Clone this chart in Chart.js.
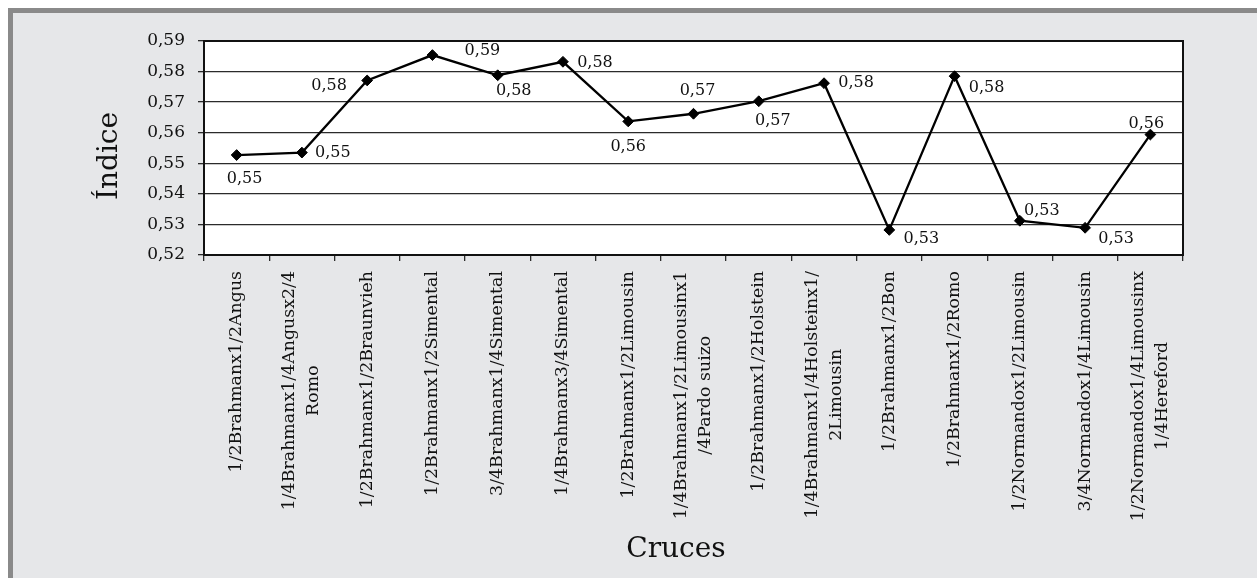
<!DOCTYPE html>
<html>
<head>
<meta charset="utf-8">
<title>Índice por cruce</title>
<script src="https://cdn.jsdelivr.net/npm/chart.js@4.4.1/dist/chart.umd.min.js"></script>
<style>
  html, body { margin: 0; padding: 0; background: #ffffff; }
  #wrap { width: 1257px; height: 578px; }
</style>
</head>
<body>
<div id="wrap"><canvas id="chart" width="1257" height="578"></canvas></div>
<script>
// Crosses (each entry is a list of text lines for the axis label)
const CATEGORIES = [
  ["1/2Brahmanx1/2Angus"],
  ["1/4Brahmanx1/4Angusx2/4", "Romo"],
  ["1/2Brahmanx1/2Braunvieh"],
  ["1/2Brahmanx1/2Simental"],
  ["3/4Brahmanx1/4Simental"],
  ["1/4Brahmanx3/4Simental"],
  ["1/2Brahmanx1/2Limousin"],
  ["1/4Brahmanx1/2Limousinx1", "/4Pardo suizo"],
  ["1/2Brahmanx1/2Holstein"],
  ["1/4Brahmanx1/4Holsteinx1/", "2Limousin"],
  ["1/2Brahmanx1/2Bon"],
  ["1/2Brahmanx1/2Romo"],
  ["1/2Normandox1/2Limousin"],
  ["3/4Normandox1/4Limousin"],
  ["1/2Normandox1/4Limousinx", "1/4Hereford"]
];

// Index value per cross
const INDICE = [
  0.5527, 0.5535, 0.5771, 0.5854, 0.5788, 0.5832, 0.5637, 0.5662,
  0.5703, 0.5762, 0.5282, 0.5785, 0.5312, 0.5289, 0.5594
];

// Value axis range and step
const Y_MIN = 0.52;
const Y_MAX = 0.59;
const Y_STEP = 0.01;

// Axis titles
const Y_TITLE = "Índice";
const X_TITLE = "Cruces";

// Where each value label sits relative to its marker (px)
const LABEL_OFFSETS = [
  [8, 24], [31, 0], [-38, 5], [50, -4], [16, 16], [32, 1], [0, 25], [4, -23],
  [14, 20], [32, 0], [32, 9], [32, 12], [22, -10], [31, 11], [-4, -11]
];

const SERIF = '"DejaVu Serif", "Liberation Serif", serif';
const INK = '#111111';
const GRID = '#2b2b2b';

const fmt = v => Number(v).toFixed(2).replace('.', ',');

// Frame, panel background and white plot area
const backdrop = {
  id: 'backdrop',
  beforeDraw(chart) {
    const { ctx, width, height, chartArea: a } = chart;
    ctx.save();
    ctx.fillStyle = '#ffffff';
    ctx.fillRect(0, 0, width, height);
    ctx.fillStyle = '#8a8a8a';
    ctx.fillRect(8, 8, width - 8, height - 8);
    ctx.fillStyle = '#e6e7e9';
    ctx.fillRect(13, 13, width - 13, height - 13);
    ctx.fillStyle = '#ffffff';
    ctx.fillRect(a.left, a.top, a.right - a.left, a.bottom - a.top);
    ctx.restore();
  }
};

// Plot border, rotated category labels, value labels and axis titles
const annotations = {
  id: 'annotations',
  afterDatasetsDraw(chart) {
    const { ctx, chartArea: a, scales } = chart;
    ctx.save();

    // outline of the plot area
    ctx.strokeStyle = INK;
    ctx.lineWidth = 2;
    ctx.strokeRect(a.left, a.top, a.right - a.left, a.bottom - a.top);

    // value labels
    const meta = chart.getDatasetMeta(0);
    ctx.fillStyle = INK;
    ctx.font = '16px ' + SERIF;
    ctx.textAlign = 'center';
    ctx.textBaseline = 'middle';
    meta.data.forEach((pt, i) => {
      const [dx, dy] = LABEL_OFFSETS[i];
      ctx.fillText(fmt(INDICE[i]), pt.x + dx, pt.y + dy);
    });

    // category labels, rotated to read bottom-to-top, lines centred in the block
    const xs = scales.x;
    const lineGap = 24;
    const topY = a.bottom + 16;
    ctx.font = '17.4px ' + SERIF;
    CATEGORIES.forEach((lines, i) => {
      const cx = xs.getPixelForValue(i);
      const blockLen = Math.max(...lines.map(t => ctx.measureText(t).width));
      ctx.save();
      ctx.translate(cx, topY);
      ctx.rotate(-Math.PI / 2);
      ctx.textAlign = 'center';
      ctx.textBaseline = 'middle';
      lines.forEach((t, j) => {
        const off = (j - (lines.length - 1) / 2) * lineGap;
        ctx.fillText(t, -blockLen / 2, off);
      });
      ctx.restore();
    });

    // axis titles
    ctx.font = '28px ' + SERIF;
    ctx.textAlign = 'center';
    ctx.textBaseline = 'alphabetic';
    ctx.fillText(X_TITLE, 676, 557);

    ctx.save();
    ctx.translate(117, 156);
    ctx.rotate(-Math.PI / 2);
    ctx.textAlign = 'center';
    ctx.textBaseline = 'alphabetic';
    ctx.fillText(Y_TITLE, 0, 0);
    ctx.restore();

    ctx.restore();
  }
};

new Chart(document.getElementById('chart'), {
  type: 'line',
  data: {
    labels: CATEGORIES.map(l => l.join(' ')),
    datasets: [{
      data: INDICE,
      borderColor: '#000000',
      borderWidth: 2.3,
      tension: 0,
      pointStyle: 'rectRot',
      pointRadius: 5.4,
      pointBackgroundColor: '#000000',
      pointBorderColor: '#000000',
      pointBorderWidth: 1,
      clip: false
    }]
  },
  options: {
    responsive: false,
    devicePixelRatio: 1,
    animation: false,
    events: [],
    layout: { padding: { top: 41, right: 74, left: 0, bottom: 0 } },
    plugins: {
      legend: { display: false },
      tooltip: { enabled: false },
      title: { display: false }
    },
    scales: {
      x: {
        type: 'category',
        offset: true,
        grid: {
          offset: true,
          drawOnChartArea: false,
          drawTicks: true,
          tickLength: 6,
          color: GRID,
          lineWidth: 1.3
        },
        border: { display: true, color: INK, width: 2 },
        ticks: { display: false },
        afterFit(scale) { scale.height = 323; }
      },
      y: {
        min: Y_MIN,
        max: Y_MAX,
        grid: {
          color: GRID,
          lineWidth: 1.3,
          drawTicks: true,
          tickLength: 6
        },
        border: { display: true, color: INK, width: 2 },
        ticks: {
          stepSize: Y_STEP,
          padding: 13,
          color: INK,
          font: { family: SERIF, size: 17 },
          callback: v => fmt(v)
        },
        afterFit(scale) { scale.width = 204; }
      }
    }
  },
  plugins: [backdrop, annotations]
});
</script>
</body>
</html>
